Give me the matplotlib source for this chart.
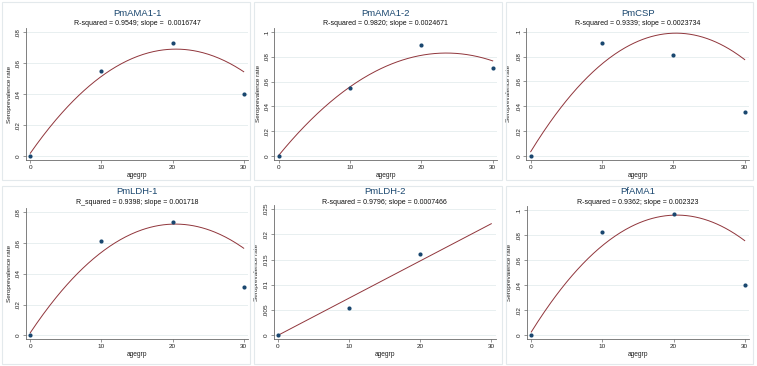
import numpy as np
import matplotlib
matplotlib.use("Agg")
import matplotlib.pyplot as plt
from matplotlib.patches import Rectangle

plt.rcParams['font.family'] = ['Liberation Sans', 'DejaVu Sans']

# Data
agegrp = [0, 10, 20, 30]
titles = ["PmAMA1-1", "PmAMA1-2", "PmCSP", "PmLDH-1", "PmLDH-2", "PfAMA1"]
subtitles = [
    "R-squared = 0.9549; slope =  0.0016747",
    "R-squared = 0.9820; slope = 0.0024671",
    "R-squared = 0.9339; slope = 0.0023734",
    "R_squared = 0.9398; slope = 0.001718",
    "R-squared = 0.9796; slope = 0.0007466",
    "R-squared = 0.9362; slope = 0.002323",
]

# observed seroprevalence rate per age group
rate_ama1_1 = [0.0, 0.0552, 0.0733, 0.0401]
rate_ama1_2 = [0.0, 0.0548, 0.0895, 0.0712]
rate_csp = [0.0, 0.0906, 0.0810, 0.0354]
rate_ldh_1 = [0.0, 0.0611, 0.0739, 0.0314]
rate_ldh_2 = [0.0, 0.00547, 0.0161, np.nan]
rate_pfama1 = [0.0, 0.0824, 0.0971, 0.0403]

# fitted curve values at each age group
fit_ama1_1 = [0.0017, 0.0518, 0.0688, 0.0546]
fit_ama1_2 = [0.0005, 0.0558, 0.0812, 0.0767]
fit_csp = [0.0035, 0.0740, 0.0989, 0.0775]
fit_ldh_1 = [0.0017, 0.0539, 0.0724, 0.0566]
fit_ldh_2 = [0.0, 0.00737, 0.0147, 0.0221]
fit_pfama1 = [0.0027, 0.0717, 0.0962, 0.0757]

rates = [rate_ama1_1, rate_ama1_2, rate_csp, rate_ldh_1, rate_ldh_2, rate_pfama1]
fits = [fit_ama1_1, fit_ama1_2, fit_csp, fit_ldh_1, fit_ldh_2, fit_pfama1]
fit_degree = [2, 2, 2, 2, 1, 2]
y_ticks = [
    [0, .02, .04, .06, .08],
    [0, .02, .04, .06, .08, .1],
    [0, .02, .04, .06, .08, .1],
    [0, .02, .04, .06, .08],
    [0, .005, .01, .015, .02, .025],
    [0, .02, .04, .06, .08, .1],
]

W, H = 757, 366
NAVY = "#1a476f"
MAROON = "#90353b"
GRID = "#e4ecee"
AXIS = "#6a6a6a"

fig = plt.figure(figsize=(W / 100, H / 100), dpi=100)
fig.patch.set_facecolor("white")

# pixel layout of each panel
x0_px = [30.3, 278.7, 530.7, 30.3, 278.0, 531.3]
x30_px = [243.7, 492.7, 744.7, 243.7, 491.3, 744.7]
y0_px = [156, 156, 156, 335.3, 335.3, 335.3]
ytop_px = [32.3, 32.0, 31.7, 212.3, 209.0, 210.3]
ylab_px = [12, 261.3, 511.3, 12, 259.3, 512.3]


def tick_fmt(v):
    if v == 0:
        return "0"
    return f"{v:g}".replace("0.", ".", 1)


for i in range(6):
    col, row = i % 3, i // 3

    # light frame round each panel
    fig.patches.append(Rectangle(((col * 252 + 2) / W, 1 - (row * 183 + 180.5) / H),
                                 247.5 / W, 178 / H, transform=fig.transFigure,
                                 fill=False, ec="#e3e9ec", lw=0.8))

    sx = (x30_px[i] - x0_px[i]) / 30
    ymax = y_ticks[i][-1]
    sy = ymax / (y0_px[i] - ytop_px[i])
    left, right = x0_px[i] - 0.6 * sx, x30_px[i] + 0.6 * sx
    top, bottom = ytop_px[i] - 4, y0_px[i] + 3.6
    ax = fig.add_axes([left / W, 1 - bottom / H, (right - left) / W, (bottom - top) / H])
    ax.set_xlim(-0.6, 30.6)
    ax.set_ylim(-3.6 * sy, ymax + 4 * sy)

    xs = np.linspace(0, 30, 200)
    coef = np.polyfit(agegrp, fits[i], fit_degree[i])
    ax.plot(xs, np.polyval(coef, xs), color=MAROON, lw=0.7, zorder=2)
    ax.scatter(agegrp, rates[i], s=9, color=NAVY, zorder=3, linewidths=0)

    ax.set_xticks(agegrp)
    ax.set_yticks(y_ticks[i])
    ax.set_yticklabels([tick_fmt(v) for v in y_ticks[i]], rotation=90, va="center")
    ax.tick_params(labelsize=4.6, length=2.5, width=0.5, color=AXIS, pad=1.2, labelcolor="#222222")
    ax.yaxis.grid(True, color=GRID, lw=0.6)
    ax.set_axisbelow(True)
    for s in ["top", "right"]:
        ax.spines[s].set_visible(False)
    for s in ["left", "bottom"]:
        ax.spines[s].set_color(AXIS)
        ax.spines[s].set_linewidth(0.6)

    ax.set_xlabel("agegrp", fontsize=4.8, color="#222222", labelpad=1.5)
    ax.set_ylabel("Seroprevalence rate", fontsize=4.6, color="#222222")
    ax.yaxis.set_label_coords((ylab_px[i] - left) / (right - left), 0.5)

    cx = (left + right) / 2
    t_y = 13.3 if row == 0 else 191.3
    s_y = 23.3 if row == 0 else 202.3
    fig.text(cx / W, 1 - t_y / H, titles[i], ha="center", va="center",
             fontsize=6.8, color=NAVY)
    fig.text(cx / W, 1 - s_y / H, subtitles[i], ha="center", va="center",
             fontsize=5.0, color="#111111")

fig.savefig("out.png", dpi=100, facecolor="white")
